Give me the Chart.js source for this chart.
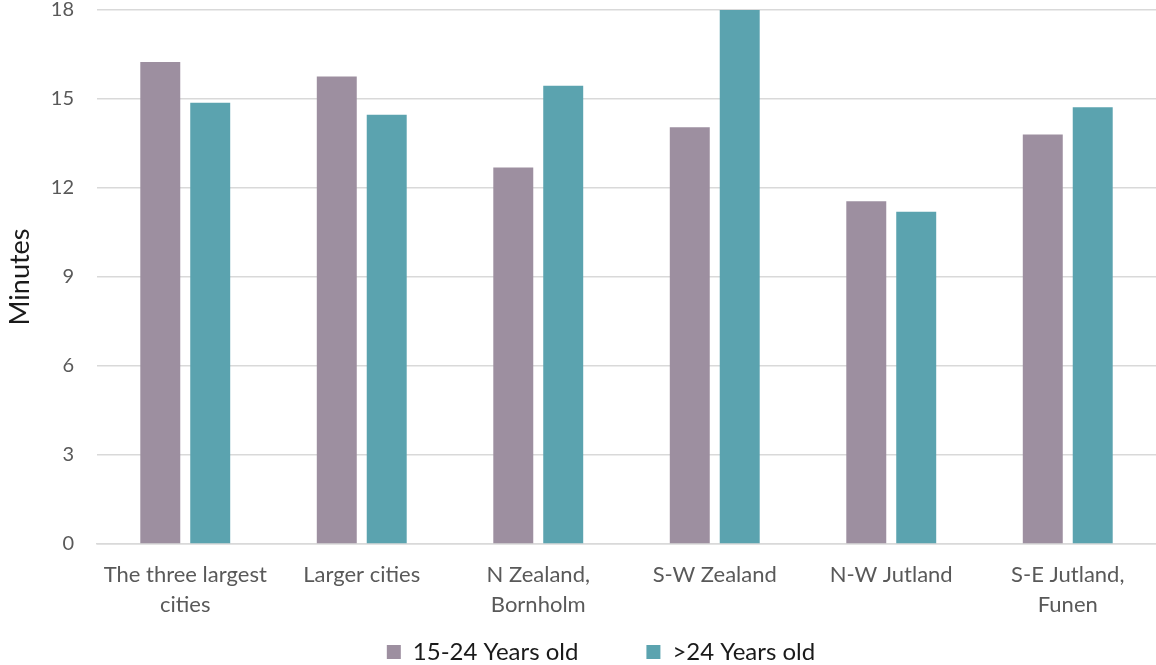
<!DOCTYPE html>
<html>
<head>
<meta charset="utf-8">
<script src="https://cdn.jsdelivr.net/npm/chart.js@4/dist/chart.umd.min.js"></script>
<style>
html,body{margin:0;padding:0;background:#fff;}
#wrap{width:1156px;height:665px;position:relative;}
</style>
</head>
<body>
<div id="wrap"><canvas id="c" width="1156" height="665"></canvas></div>
<script>
const categories = [["The three largest","cities"],"Larger cities",["N Zealand,","Bornholm"],"S-W Zealand","N-W Jutland",["S-E Jutland,","Funen"]];
const young = [16.25, 15.76, 12.69, 14.05, 11.55, 13.8];
const older = [14.87, 14.47, 15.45, 18.0, 11.2, 14.72];
const seriesNames = ["15-24 Years old", ">24 Years old"];
const yTicks = [0,3,6,9,12,15,18];

const FONT = "Lato, 'Open Sans', sans-serif";
const legendPlace = {
  id: 'legendPlace',
  afterLayout(chart) {
    const lg = chart.legend;
    if (lg) { lg.top = 572; lg.bottom = 665; lg.height = 93; lg.left += 23; lg.right += 23; }
  }
};
new Chart(document.getElementById('c'), {
  type: 'bar',
  data: {
    labels: categories,
    datasets: [
      {label: seriesNames[0], data: young, backgroundColor: '#9d8fa0', borderWidth: 0},
      {label: seriesNames[1], data: older, backgroundColor: '#5ba3af', borderWidth: 0}
    ]
  },
  plugins: [legendPlace],
  options: {
    responsive: false,
    animation: false,
    devicePixelRatio: 1,
    layout: {padding: {top: 0, right: 0, left: 0, bottom: 0}},
    categoryPercentage: 0.566,
    barPercentage: 0.8,
    plugins: {
      tooltip: {enabled: false},
      legend: {
        position: 'bottom',
        maxHeight: 40,
        labels: {
          boxWidth: 14, boxHeight: 14, padding: 68,
          color: '#1a1a1a', font: {family: FONT, size: 24}
        }
      }
    },
    scales: {
      x: {
        afterFit: (s) => { s.height = 81; },
        grid: {display: false, drawTicks: false},
        border: {display: true, color: '#d9d9d9', width: 1.5},
        ticks: {color: '#595959', font: {family: FONT, size: 22, lineHeight: 1.36}, padding: 16, maxRotation: 0, autoSkip: false}
      },
      y: {
        min: 0, max: 18,
        afterBuildTicks: (s) => { s.ticks = yTicks.map(v => ({value: v})); },
        afterFit: (s) => { s.paddingTop = 10; s.width = 97; },
        grid: {color: '#d9d9d9', lineWidth: 1.5, drawTicks: false},
        border: {display: false},
        ticks: {color: '#595959', font: {family: FONT, size: 20}, padding: 23},
        title: {display: true, text: 'Minutes', color: '#1a1a1a', font: {family: FONT, size: 27}, padding: 4}
      }
    }
  }
});
</script>
</body>
</html>
